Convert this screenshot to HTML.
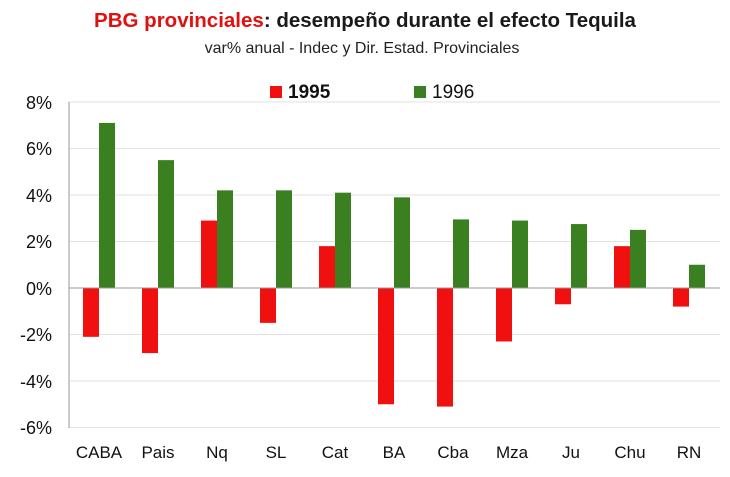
<!DOCTYPE html>
<html><head><style>
body{margin:0;background:#fff;width:730px;height:472px;overflow:hidden}
svg text{font-family:"Liberation Sans",sans-serif}
</style></head><body>
<svg width="730" height="472" xmlns="http://www.w3.org/2000/svg">
<text x="365" y="27" text-anchor="middle" font-size="20.5" font-weight="bold" fill="#1a1a1a"><tspan fill="#e01010">PBG provinciales</tspan>: desempeño durante el efecto Tequila</text>
<text x="362" y="53" text-anchor="middle" font-size="16" fill="#222">var% anual - Indec y Dir. Estad. Provinciales</text>
<rect x="270" y="86" width="12" height="12" fill="#f01010"/>
<text x="288" y="98" font-size="19" font-weight="bold" fill="#111">1995</text>
<rect x="414" y="86" width="12" height="12" fill="#3a8020"/>
<text x="432" y="98" font-size="19" fill="#111">1996</text>
<g stroke="#e2e2e2" stroke-width="1">
<line x1="69" y1="102" x2="720" y2="102"/><line x1="69" y1="148.5" x2="720" y2="148.5"/>
<line x1="69" y1="195" x2="720" y2="195"/><line x1="69" y1="241.5" x2="720" y2="241.5"/>
<line x1="69" y1="334.5" x2="720" y2="334.5"/><line x1="69" y1="381" x2="720" y2="381"/>
<line x1="69" y1="427.5" x2="720" y2="427.5"/>
</g>
<g font-size="18" fill="#111" text-anchor="end">
<text x="52" y="109">8%</text><text x="52" y="155">6%</text><text x="52" y="202">4%</text>
<text x="52" y="248">2%</text><text x="52" y="295">0%</text><text x="52" y="341">-2%</text>
<text x="52" y="388">-4%</text><text x="52" y="434">-6%</text>
</g>
<g id="bars"></g>
<line x1="69" y1="102" x2="69" y2="428" stroke="#999"/>
<line x1="69" y1="288" x2="720" y2="288" stroke="#999"/>
<g font-size="17" fill="#111" text-anchor="middle" id="lab"></g>
<script>
var d=[["CABA",-2.1,7.1],["Pais",-2.8,5.5],["Nq",2.9,4.2],["SL",-1.5,4.2],["Cat",1.8,4.1],["BA",-5.0,3.9],["Cba",-5.1,2.95],["Mza",-2.3,2.9],["Ju",-0.7,2.75],["Chu",1.8,2.5],["RN",-0.8,1.0]];
var ns="http://www.w3.org/2000/svg",b=document.getElementById("bars"),l=document.getElementById("lab");
function y(v){return 288-23.25*v}
d.forEach(function(r,i){var c=99+59*i;
[[r[1],c-16,"#f01010"],[r[2],c,"#3a8020"]].forEach(function(s){var e=document.createElementNS(ns,"rect");
var y0=Math.min(y(0),y(s[0])),h=Math.abs(y(s[0])-y(0));e.setAttribute("x",s[1]);e.setAttribute("y",y0);e.setAttribute("width",16);e.setAttribute("height",h);e.setAttribute("fill",s[2]);b.appendChild(e);});
var t=document.createElementNS(ns,"text");t.setAttribute("x",c);t.setAttribute("y",458);t.textContent=r[0];l.appendChild(t);});
</script>
</svg>
</body></html>
